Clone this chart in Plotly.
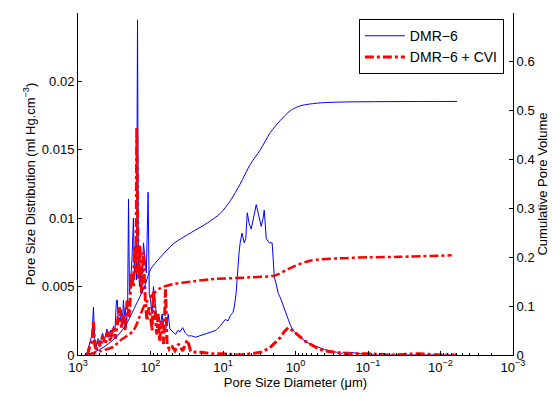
import plotly.graph_objects as go

# ---- data (diameters in micrometres) ----
dmr6_diam = [764, 740, 700, 640, 612, 590, 560, 530, 490, 460, 430, 400, 375, 357, 340, 324, 310, 295, 286, 278,
             268, 260, 252, 244, 236, 229, 222, 215, 207, 201, 195, 189, 180, 172, 167, 162, 156, 151, 147, 142,
             138, 133, 125, 118, 114, 108, 104, 100, 95, 91, 86, 83, 80, 76, 73, 69, 66, 62, 60, 57,
             54, 50, 48, 45, 42, 39, 36, 33, 30, 27, 24, 21, 18, 16, 14, 12.5, 11, 10, 9.3, 8.5,
             7.9, 7.3, 7.0, 6.6, 6.35, 6.0, 5.8, 5.47, 5.09, 4.85, 4.63, 4.35, 4.08, 3.75, 3.48, 3.25, 2.97, 2.80, 2.70, 2.53,
             2.30, 2.10, 1.96, 1.85, 1.73, 1.62, 1.45, 1.30, 1.18, 1.08, 0.95, 0.86, 0.73, 0.63, 0.50, 0.40, 0.33, 0.27, 0.24, 0.22,
             0.18, 0.13, 0.094, 0.006]
dmr6_psd = [0, 0.0003, 0.0008, 0.0015, 0.0035, 0.0012, 0.0006, 0.0012, 0.0009, 0.0016, 0.0011, 0.0019, 0.0013, 0.0018, 0.0014, 0.0021, 0.0017, 0.0040, 0.0040, 0.0022,
            0.0027, 0.0025, 0.0033, 0.0024, 0.0040, 0.0028, 0.0035, 0.0024, 0.0032, 0.0114, 0.0045, 0.0052, 0.0070, 0.0100, 0.0060, 0.0080, 0.0055, 0.0245, 0.0070, 0.0050,
            0.0060, 0.0048, 0.0082, 0.0065, 0.0060, 0.0119, 0.0045, 0.0040, 0.0030, 0.0050, 0.0035, 0.0030, 0.0026, 0.0028, 0.0022, 0.0030, 0.0020, 0.0018, 0.0022, 0.0030,
            0.0019, 0.0017, 0.0016, 0.0015, 0.0018, 0.0017, 0.0020, 0.0016, 0.0014, 0.0014, 0.0013, 0.0014, 0.0015, 0.0016, 0.0017, 0.0018, 0.0021, 0.0024, 0.0026, 0.0025,
            0.0029, 0.0031, 0.0035, 0.0045, 0.0060, 0.0075, 0.0082, 0.0089, 0.0082, 0.0085, 0.0104, 0.0096, 0.0092, 0.0102, 0.0110, 0.0103, 0.0094, 0.0100, 0.0106, 0.0085,
            0.0082, 0.0082, 0.0057, 0.0052, 0.0045, 0.0042, 0.0035, 0.0029, 0.0022, 0.0018, 0.0015, 0.0013, 0.0010, 0.0008, 0.0006, 0.0004, 0.0003, 0.0002, 0.0, 0.0002,
            0.0002, 0.0001, 0.0, 0.0]

cvi_diam = [740, 700, 640, 612, 590, 560, 530, 490, 460, 418, 390, 357, 330, 304, 286, 268, 252, 236, 222, 210,
            195, 185, 172, 165, 158, 155, 150, 146, 140, 133, 125, 118, 112, 105, 100, 95, 91, 86, 82, 78,
            75, 70, 66, 62, 59, 55, 50, 46, 41, 36, 31, 28, 24, 20, 15, 10, 6, 4, 3, 2.3,
            1.9, 1.6, 1.43, 1.26, 1.1, 1.0, 0.86, 0.73, 0.63, 0.5, 0.4, 0.3, 0.2, 0.1, 0.05, 0.02, 0.01, 0.0059]
cvi_psd = [0, 0.0005, 0.0010, 0.0025, 0.0008, 0.0003, 0.0010, 0.0006, 0.0014, 0.0008, 0.0017, 0.0010, 0.0020, 0.0012, 0.0024, 0.0035, 0.0020, 0.0030, 0.0018, 0.0040,
           0.0028, 0.0060, 0.0050, 0.0080, 0.0060, 0.0166, 0.0090, 0.0055, 0.0080, 0.0045, 0.0075, 0.0040, 0.0025, 0.0035, 0.0028, 0.0018, 0.0047, 0.0030, 0.0015, 0.0030,
           0.0010, 0.0025, 0.0008, 0.0048, 0.0008, 0.0004, 0.0006, 0.0003, 0.0008, 0.0003, 0.0011, 0.0003, 0.0002, 0.0002, 0.0001, 0.0001, 0.0, 0.0001, 0.0002, 0.0005,
           0.0009, 0.0013, 0.0017, 0.0020, 0.0018, 0.0016, 0.0013, 0.0010, 0.0008, 0.0005, 0.0003, 0.0002, 0.0001, 0.0001, 0.0, 0.0001, 0.0, 0.0]

dmr6_cum_diam = [764, 490, 304, 222, 162, 121, 100, 73, 48, 28, 16.5, 10.9, 7.9, 5.8, 4.21, 3.06, 2.23, 1.62, 1.18, 0.86, 0.457, 0.177, 0.0059]
dmr6_cum = [0, 0.012, 0.035, 0.06, 0.1, 0.14, 0.175, 0.2, 0.228, 0.25, 0.27, 0.29, 0.316, 0.35, 0.39, 0.42, 0.455, 0.48, 0.5, 0.51, 0.516, 0.518, 0.519]

cvi_cum_diam = [740, 490, 324, 260, 172, 140, 118, 91, 73, 50, 28, 15, 4.21, 1.90, 1.18, 0.63, 0.242, 0.094, 0.036, 0.007]
cvi_cum = [0, 0.008, 0.017, 0.03, 0.05, 0.08, 0.105, 0.125, 0.137, 0.145, 0.15, 0.155, 0.159, 0.163, 0.178, 0.193, 0.198, 0.2, 0.201, 0.204]

left_ticks = [0, 0.005, 0.01, 0.015, 0.02]
left_tick_text = ["0", "0.005", "0.01", "0.015", "0.02"]
right_ticks = [0, 0.1, 0.2, 0.3, 0.4, 0.5, 0.6, 0.7]
right_tick_text = ["0", "0.1", "0.2", "0.3", "0.4", "0.5", "0.6", "0.7"]
x_ticks = [1e3, 1e2, 1e1, 1e0, 1e-1, 1e-2, 1e-3]
x_tick_text = ["10<sup>3</sup>", "10<sup>2</sup>", "10<sup>1</sup>", "10<sup>0</sup>",
               "10<sup>−1</sup>", "10<sup>−2</sup>", "10<sup>−3</sup>"]

BLUE = "#0000FF"
RED = "#FF0000"
FONT = "Liberation Sans, Arial, sans-serif"

fig = go.Figure()
fig.add_trace(go.Scatter(x=dmr6_diam, y=dmr6_psd, mode="lines", name="DMR−6",
                         line=dict(color=BLUE, width=1), yaxis="y"))
fig.add_trace(go.Scatter(x=cvi_diam, y=cvi_psd, mode="lines", name="DMR−6 + CVI",
                         line=dict(color=RED, width=3, dash="dashdot"), yaxis="y"))
fig.add_trace(go.Scatter(x=dmr6_cum_diam, y=dmr6_cum, mode="lines", showlegend=False,
                         line=dict(color=BLUE, width=1, shape="spline", smoothing=0.8), yaxis="y2"))
fig.add_trace(go.Scatter(x=cvi_cum_diam, y=cvi_cum, mode="lines", showlegend=False,
                         line=dict(color=RED, width=2.5, dash="dashdot", shape="spline", smoothing=0.8), yaxis="y2"))

# the page body adds an 8px margin, so the figure is 8px smaller than the window
fig.update_layout(
    width=551, height=388,
    margin=dict(l=70, r=46, t=5, b=41, autoexpand=False),
    paper_bgcolor="white", plot_bgcolor="white",
    font=dict(family=FONT, size=13, color="black"),
    xaxis=dict(type="log", range=[3, -3], tickvals=x_ticks, ticktext=x_tick_text,
               ticks="inside", ticklen=4, tickcolor="black", showline=True, linecolor="black",
               linewidth=1, showgrid=False, zeroline=False, tickfont=dict(size=13),
               minor=dict(ticks="inside", ticklen=2, tickcolor="black", dtick="D1", showgrid=False),
               title=dict(text="Pore Size Diameter (μm)", standoff=2, font=dict(size=13))),
    yaxis=dict(range=[0, 0.025], tickvals=left_ticks, ticktext=left_tick_text,
               ticks="inside", ticklen=4, tickcolor="black", showline=True, linecolor="black",
               linewidth=1, showgrid=False, zeroline=False,
               title=dict(text="Pore Size Distribution (ml Hg.cm<sup>−3</sup>)", standoff=3,
                          font=dict(size=13))),
    yaxis2=dict(range=[0, 0.7], tickvals=right_ticks, ticktext=right_tick_text, overlaying="y",
                side="right", ticks="inside", ticklen=4, tickcolor="black", showline=True,
                linecolor="black", linewidth=1, showgrid=False, zeroline=False,
                title=dict(text="Cumulative Pore Volume", standoff=4, font=dict(size=13))),
    legend=dict(x=0.979, y=0.982, xanchor="right", yanchor="top", bgcolor="white",
                bordercolor="black", borderwidth=1, font=dict(size=14),
                tracegroupgap=0, itemwidth=40),
    showlegend=True,
)

fig.write_html("out.html")
